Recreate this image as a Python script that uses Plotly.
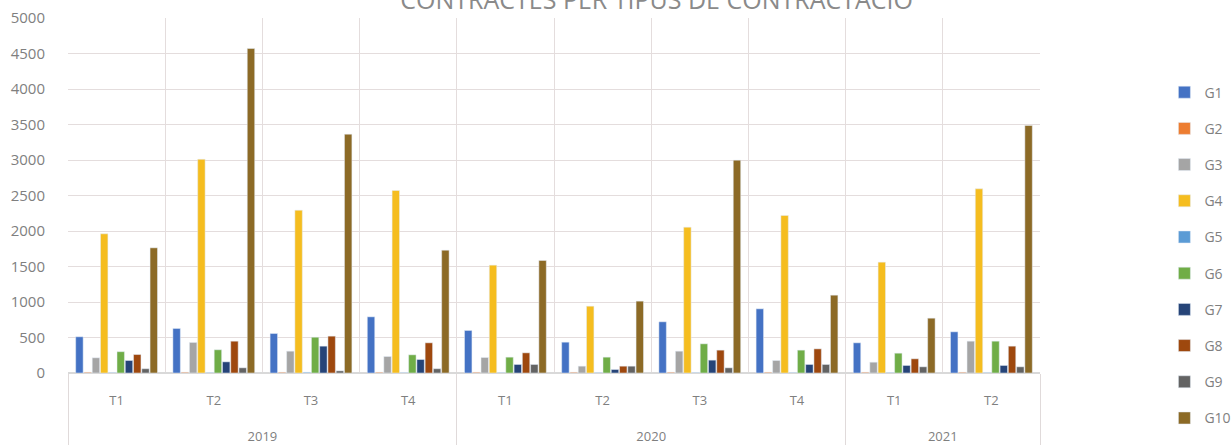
import plotly.graph_objects as go

years = ['2019'] * 4 + ['2020'] * 4 + ['2021'] * 2
quarters = ['T1', 'T2', 'T3', 'T4', 'T1', 'T2', 'T3', 'T4', 'T1', 'T2']

g1 = [510, 627, 556, 791, 599, 434, 721, 904, 425, 580]
g2 = [10, 10, 10, 10, 10, 10, 10, 10, 10, 10]
g3 = [214, 430, 307, 232, 218, 96, 307, 176, 152, 448]
g4 = [1960, 3010, 2293, 2570, 1519, 941, 2054, 2218, 1561, 2594]
g5 = [5, 5, 10, 5, 5, 5, 5, 5, 5, 5]
g6 = [300, 327, 504, 256, 223, 223, 411, 322, 279, 448]
g7 = [176, 157, 378, 190, 120, 49, 181, 120, 106, 106]
g8 = [260, 448, 519, 425, 284, 96, 322, 340, 200, 378]
g9 = [60, 73, 30, 60, 120, 96, 73, 120, 87, 87]
g10 = [1763, 4570, 3364, 1730, 1585, 1012, 2998, 1096, 772, 3486]

series = [g1, g2, g3, g4, g5, g6, g7, g8, g9, g10]
names = ['G1', 'G2', 'G3', 'G4', 'G5', 'G6', 'G7', 'G8', 'G9', 'G10']
colors = ['#4472C4', '#ED7D31', '#A5A5A5', '#F5BD1F', '#5B9BD5',
          '#70AD47', '#264478', '#9E480E', '#636363', '#8C6A26']

# year labels sit well below the quarter row, so push them down a couple of lines
year_labels = ['<br><br>' + y for y in years]

fig = go.Figure()
for name, vals, col in zip(names, series, colors):
    fig.add_trace(go.Bar(x=[year_labels, quarters], y=vals, name=name,
                         marker_color=col, legendgroup=name))

grey = '#7f7f7f'
fig.update_layout(
    width=1232, height=446,
    margin=dict(l=68, r=192, t=18, b=73, autoexpand=False),
    paper_bgcolor='white', plot_bgcolor='white',
    barmode='group', bargap=0.15, bargroupgap=0.1,
    font=dict(family='Open Sans', color=grey, size=14),
    title=dict(text='CONTRACTES PER TIPUS DE CONTRACTACIÓ',
               x=0.533, xanchor='center', y=1.0, yanchor='middle',
               font=dict(size=25, color='#8a8a8a')),
    legend=dict(x=1.128, xanchor='left', y=0.835, yanchor='top',
                maxheight=446, tracegroupgap=15,
                font=dict(size=14, color=grey)),
)
fig.update_yaxes(range=[0, 5000], dtick=500, gridcolor='#e4dddd',
                 zeroline=True, zerolinecolor='#d9d9d9',
                 ticklabelstandoff=22, tickfont=dict(size=15, color=grey))
fig.update_xaxes(tickson='boundaries', showgrid=True, gridcolor='#e4dddd',
                 showdividers=True, dividercolor='#e0dada', dividerwidth=1,
                 ticklabelstandoff=18, tickfont=dict(size=13, color=grey))

fig.write_html('out.html', config={'displayModeBar': False},
               post_script="document.body.style.margin='0';")
